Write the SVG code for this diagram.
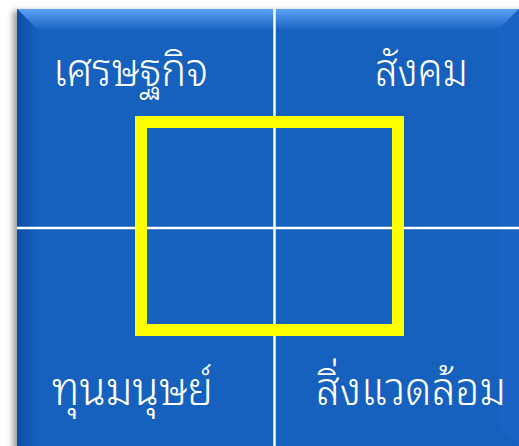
<svg xmlns="http://www.w3.org/2000/svg" width="519" height="446" viewBox="0 0 519 446">
<defs>
<linearGradient id="topBevel" x1="0" y1="0" x2="0" y2="1">
<stop offset="0" stop-color="#5aa2f5"/>
<stop offset="1" stop-color="#1d66c6"/>
</linearGradient>
<linearGradient id="leftBevel" x1="0" y1="0" x2="1" y2="0">
<stop offset="0" stop-color="#0f4fa6"/>
<stop offset="1" stop-color="#1660be"/>
</linearGradient>
<filter id="shadow" x="-10%" y="-10%" width="120%" height="120%">
<feGaussianBlur stdDeviation="3"/>
</filter>
<style>
.lbl{font-family:"Noto Sans Thai Looped","Noto Sans","Liberation Sans",sans-serif;font-size:46px;font-weight:300;fill:#ffffff;}
.div{stroke:#ffffff;stroke-width:2.5;}
</style>
</defs>
<rect x="0" y="0" width="519" height="446" fill="#ffffff"/>
<g id="background">
<rect x="13" y="11" width="510" height="440" fill="#9a9a9a" filter="url(#shadow)"/>
<rect x="17" y="9" width="502" height="437" fill="#1660be"/>
<polygon points="17,9 519,9 499,29 37,29" fill="url(#topBevel)"/>
<polygon points="17,9 37,29 37,446 17,446" fill="url(#leftBevel)"/>
<polygon points="519,9 519,446 499,426 499,29" fill="#1a63c2"/>
</g>
<g id="connectors">
<line class="div" x1="274.5" y1="9" x2="274.5" y2="446"/>
<line class="div" x1="17" y1="228" x2="519" y2="228"/>
</g>
<g id="frame">
<rect x="141" y="122" width="257" height="208" fill="none" stroke="#ffff00" stroke-width="12"/>
</g>
<g id="economy"><text class="lbl" x="53" y="86" textLength="155" lengthAdjust="spacingAndGlyphs">เศรษฐกิจ</text></g>
<g id="society"><text class="lbl" x="375" y="86" textLength="93" lengthAdjust="spacingAndGlyphs">สังคม</text></g>
<g id="human-capital"><text class="lbl" x="52" y="405" textLength="161" lengthAdjust="spacingAndGlyphs">ทุนมนุษย์</text></g>
<g id="environment"><text class="lbl" x="316" y="405" textLength="190" lengthAdjust="spacingAndGlyphs">สิ่งแวดล้อม</text></g>
</svg>
